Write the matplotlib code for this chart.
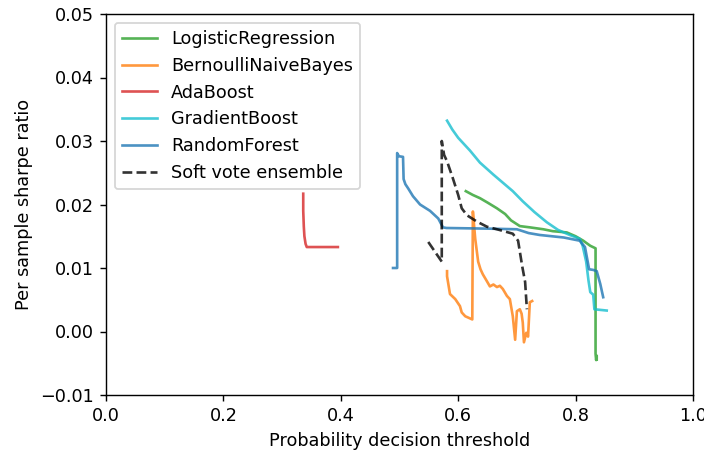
import numpy as np
from matplotlib import pyplot as plt

# values (threshold, sharpe ratio per sample)
lr_x = [0.613, 0.625, 0.637, 0.650, 0.666, 0.680, 0.690, 0.705, 0.722, 0.745, 0.761,
        0.785, 0.800, 0.813, 0.825, 0.834, 0.834, 0.835, 0.836, 0.836]
lr_y = [0.0221, 0.0215, 0.0210, 0.0203, 0.0194, 0.0185, 0.0175, 0.0166, 0.0164, 0.0161, 0.0158,
        0.0156, 0.0150, 0.0143, 0.0135, 0.0131, -0.0035, -0.0045, -0.0038, -0.0044]

nb_x = [0.581, 0.581, 0.586, 0.595, 0.603, 0.606, 0.612, 0.624, 0.625, 0.629, 0.634, 0.638,
        0.642, 0.649, 0.654, 0.660, 0.666, 0.671, 0.676, 0.683, 0.688, 0.693, 0.697, 0.700,
        0.705, 0.708, 0.710, 0.712, 0.716, 0.719, 0.722, 0.726]
nb_y = [0.0095, 0.0087, 0.0059, 0.0051, 0.0040, 0.0030, 0.0024, 0.0019, 0.0189, 0.0146, 0.0110, 0.0098,
        0.0090, 0.0079, 0.0071, 0.0074, 0.0070, 0.0072, 0.0067, 0.0056, 0.0051, 0.0024, -0.0013, 0.0032,
        0.0035, 0.0028, 0.0014, -0.0017, -0.0002, -0.0008, 0.0046, 0.0048]

ada_x = [0.336, 0.336, 0.337, 0.338, 0.340, 0.342, 0.395]
ada_y = [0.0217, 0.0190, 0.0165, 0.0150, 0.0138, 0.0133, 0.0133]

gb_x = [0.581, 0.590, 0.600, 0.620, 0.637, 0.660, 0.693, 0.710, 0.730, 0.751, 0.770, 0.790,
        0.807, 0.812, 0.818, 0.822, 0.825, 0.830, 0.832, 0.853]
gb_y = [0.0332, 0.0318, 0.0305, 0.0285, 0.0266, 0.0247, 0.0221, 0.0205, 0.0188, 0.0172, 0.0160, 0.0152,
        0.0146, 0.0135, 0.0110, 0.0080, 0.0062, 0.0058, 0.0035, 0.0033]

rf_x = [0.489, 0.496, 0.496, 0.499, 0.506, 0.507, 0.510, 0.515, 0.523, 0.535, 0.552, 0.566,
        0.574, 0.580, 0.650, 0.700, 0.720, 0.739, 0.780, 0.807, 0.816, 0.823, 0.830, 0.836,
        0.842, 0.847]
rf_y = [0.0100, 0.0100, 0.0281, 0.0276, 0.0275, 0.0240, 0.0232, 0.0225, 0.0213, 0.0200, 0.0190, 0.0178,
        0.0164, 0.0163, 0.0162, 0.0161, 0.0155, 0.0152, 0.0148, 0.0143, 0.0133, 0.0098, 0.0097, 0.0095,
        0.0075, 0.0054]

sv_x = [0.549, 0.572, 0.572, 0.576, 0.581, 0.591, 0.600, 0.606, 0.615, 0.632, 0.649, 0.670,
        0.693, 0.702, 0.709, 0.714, 0.717]
sv_y = [0.0141, 0.0110, 0.0300, 0.0278, 0.0268, 0.0241, 0.0215, 0.0194, 0.0183, 0.0173, 0.0165, 0.0160,
        0.0154, 0.0143, 0.0103, 0.0078, 0.0035]

series = [
    ('LogisticRegression', lr_x, lr_y, 'tab:green', '-'),
    ('BernoulliNaiveBayes', nb_x, nb_y, 'tab:orange', '-'),
    ('AdaBoost', ada_x, ada_y, 'tab:red', '-'),
    ('GradientBoost', gb_x, gb_y, 'tab:cyan', '-'),
    ('RandomForest', rf_x, rf_y, 'tab:blue', '-'),
    ('Soft vote ensemble', sv_x, sv_y, 'black', '--'),
]

dpi = 127
fig = plt.figure(figsize=(704 / dpi, 455 / dpi), dpi=dpi)
ax = fig.add_axes([106 / 704, 60 / 455, 587 / 704, 381 / 455])

for name, xs, ys, color, style in series:
    ax.plot(xs, ys, style, color=color, alpha=0.8, label=name)

ax.set_xlim(0, 1.0)
ax.set_ylim(-0.01, 0.05)
ax.set_xticks(np.arange(0, 1.01, 0.2))
ax.set_yticks(np.arange(-0.01, 0.051, 0.01))
ax.set_xlabel('Probability decision threshold')
ax.set_ylabel('Per sample sharpe ratio')
ax.legend(loc='upper left')

plt.savefig('out.png', dpi=dpi)
plt.close()
